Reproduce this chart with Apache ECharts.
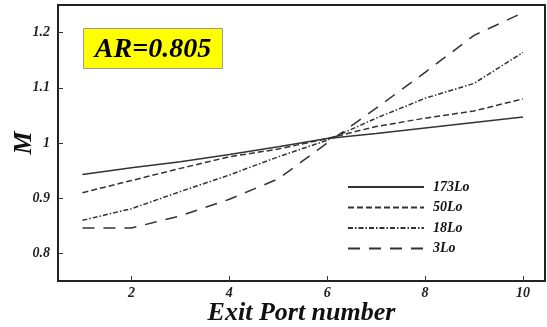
<!DOCTYPE html>
<html>
<head>
<meta charset="utf-8">
<script src="https://cdn.jsdelivr.net/npm/echarts@6/dist/echarts.min.js"></script>
<style>html,body{margin:0;padding:0;background:#fff}#c{width:547px;height:327px}</style>
</head>
<body>
<div id="c"></div>
<script>
const ports = [1, 2, 3, 4, 5, 6, 7, 8, 9, 10];
const lo173 = [0.943, 0.955, 0.966, 0.979, 0.993, 1.008, 1.017, 1.027, 1.037, 1.047];
const lo50 = [0.910, 0.932, 0.954, 0.975, 0.989, 1.008, 1.030, 1.045, 1.058, 1.080];
const lo18 = [0.860, 0.881, 0.912, 0.942, 0.975, 1.005, 1.045, 1.081, 1.108, 1.164];
const lo3 = [0.846, 0.846, 0.868, 0.898, 0.935, 1.000, 1.063, 1.128, 1.195, 1.236];
const xTicks = [2, 4, 6, 8, 10];
const yTicks = [0.8, 0.9, 1.0, 1.1, 1.2];
const seriesNames = ['173Lo', '50Lo', '18Lo', '3Lo'];

const FONT = 'Liberation Serif';
const pair = a => ports.map((p, i) => [p, a[i]]);
const dashes = ['solid', [6, 3], [5, 2, 1.5, 2], [12, 9]];
const values = [lo173, lo50, lo18, lo3];

const chart = echarts.init(document.getElementById('c'), null, {renderer: 'canvas'});
chart.setOption({
  animation: false,
  grid: {left: 58, top: 5, right: 2, bottom: 46, outerBoundsMode: 'none', containLabel: false,
    show: true, borderColor: '#222', borderWidth: 2},
  xAxis: {
    type: 'value', min: 0.5, max: 10.45,
    name: 'Exit Port number', nameLocation: 'middle', nameGap: 19, nameMoveOverlap: false,
    nameTextStyle: {fontFamily: FONT, fontStyle: 'italic', fontWeight: 'bold', fontSize: 26, color: '#111'},
    axisLine: {show: true, lineStyle: {color: '#222', width: 2}},
    axisTick: {show: true, inside: true, length: 5, customValues: xTicks, lineStyle: {color: '#333'}},
    axisLabel: {customValues: xTicks, fontFamily: FONT, fontStyle: 'italic', fontWeight: 'bold', fontSize: 14, color: '#222', margin: 5},
    splitLine: {show: false}
  },
  yAxis: {
    type: 'value', min: 0.75, max: 1.25,
    name: 'M', nameLocation: 'middle', nameGap: 21, nameRotate: 90, nameMoveOverlap: false,
    nameTextStyle: {fontFamily: FONT, fontStyle: 'italic', fontWeight: 'bold', fontSize: 26, color: '#111'},
    axisLine: {show: true, lineStyle: {color: '#222', width: 2}},
    axisTick: {show: true, inside: true, length: 5, customValues: yTicks, lineStyle: {color: '#333'}},
    axisLabel: {customValues: yTicks, fontFamily: FONT, fontStyle: 'italic', fontWeight: 'bold', fontSize: 14, color: '#222', margin: 8,
      formatter: v => String(Math.round(v * 10) / 10)},
    splitLine: {show: false}
  },
  legend: {
    orient: 'vertical', left: 342, top: 175, itemWidth: 76, itemHeight: 14, itemGap: 6.5,
    data: seriesNames,
    itemStyle: {opacity: 0},
    textStyle: {fontFamily: FONT, fontStyle: 'italic', fontWeight: 'bold', fontSize: 14, color: '#111', padding: [0, 0, 0, 4]}
  },
  graphic: [{
    type: 'group', left: 83, top: 28,
    children: [
      {type: 'rect', shape: {x: 0, y: 0, width: 139, height: 40}, style: {fill: '#ffff00', stroke: '#999', lineWidth: 1}},
      {type: 'text', x: 69.5, y: 21, style: {text: 'AR=0.805', fill: '#000', font: 'italic bold 28px "Liberation Serif"', align: 'center', verticalAlign: 'middle'}}
    ]
  }],
  series: values.map((v, i) => ({
    name: seriesNames[i], type: 'line', data: pair(v), showSymbol: false, symbol: 'none',
    lineStyle: {color: '#333', width: 1.5, type: dashes[i]},
    itemStyle: {color: '#333'}
  }))
});
</script>
</body>
</html>
